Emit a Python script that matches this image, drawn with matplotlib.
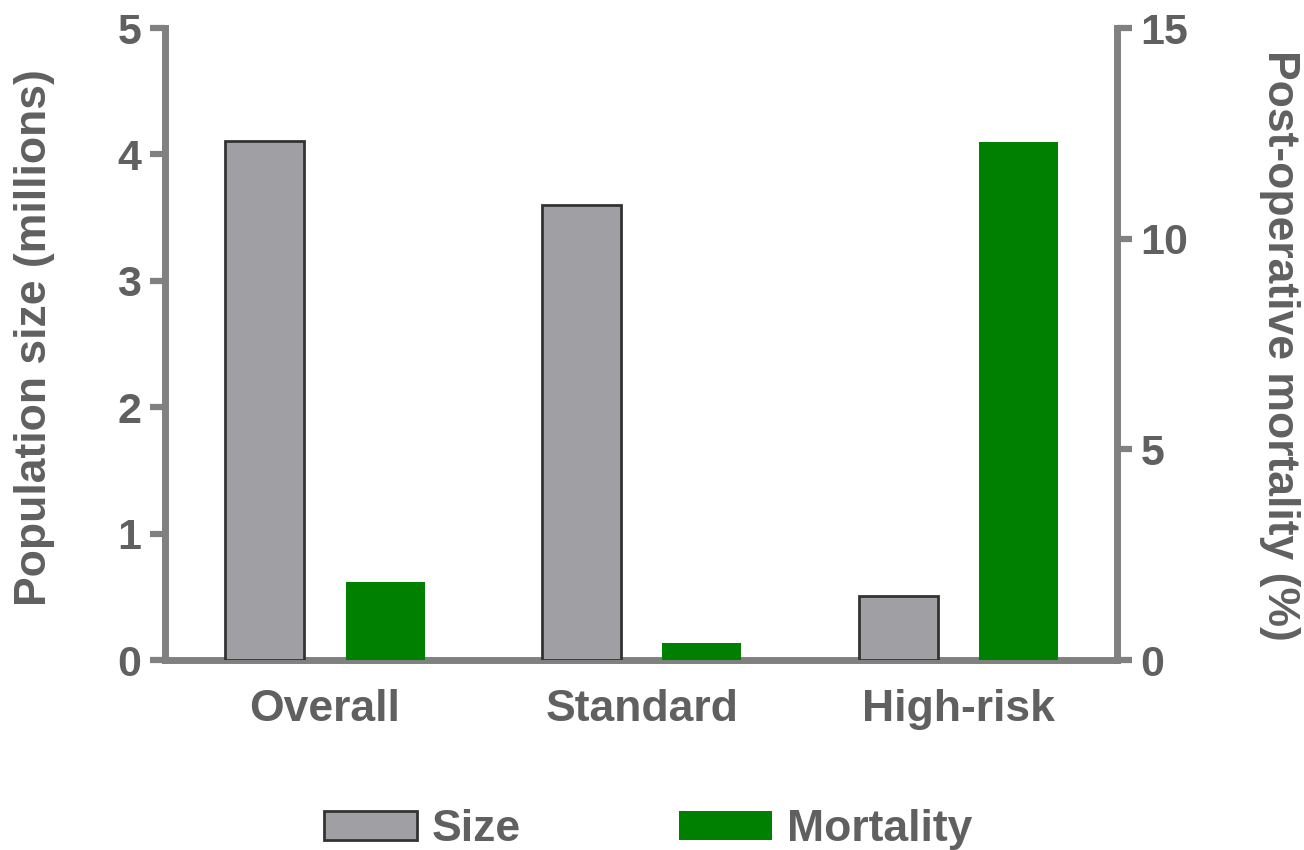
import numpy as np
import matplotlib
matplotlib.use("Agg")
import matplotlib.pyplot as plt

# values
groups = ["Overall", "Standard", "High-risk"]
size_millions = [4.11, 3.60, 0.51]
mortality_pct = [1.85, 0.40, 12.3]

grey_txt = "#606060"
spine_col = "#808080"

plt.rcParams['font.family'] = ['Liberation Sans', 'DejaVu Sans']
plt.rcParams['font.weight'] = 'bold'

fig = plt.figure(figsize=(13.04, 8.5), dpi=100)
ax = fig.add_axes([0.1265, 0.2235, 0.73, 0.7435])
ax2 = ax.twinx()

x = np.arange(len(groups))
w = 0.25
off = 0.19

b1 = ax.bar(x - off, size_millions, w, color="#A0A0A4", edgecolor="#333333",
            linewidth=2, label="Size", zorder=3)
b2 = ax2.bar(x + off, mortality_pct, w, color="#008000", label="Mortality", zorder=3)

ax.set_xlim(-0.505, 2.5)
ax.set_ylim(0, 5)
ax2.set_ylim(0, 15)
ax.set_yticks([0, 1, 2, 3, 4, 5])
ax2.set_yticks([0, 5, 10, 15])
ax.set_xticks(x)
ax.set_xticklabels(groups)

for a in (ax, ax2):
    for s in a.spines.values():
        s.set_color(spine_col)
        s.set_linewidth(5)
    a.spines['top'].set_visible(False)
ax.spines['right'].set_visible(False)
ax2.spines['left'].set_visible(False)
ax2.spines['bottom'].set_visible(False)

ax.tick_params(axis='y', length=11, width=4.5, color=spine_col, pad=6,
               labelsize=31, labelcolor=grey_txt)
ax.tick_params(axis='x', length=0, pad=21, labelsize=32, labelcolor=grey_txt)
ax2.tick_params(axis='y', length=11, width=4.5, color=spine_col, pad=6,
                labelsize=31, labelcolor=grey_txt)

ax.set_ylabel("Population size (millions)", fontsize=32, color=grey_txt,
              fontweight='bold', va='center')
ax.yaxis.set_label_coords(-0.137, 0.51)
ax2.set_ylabel("Post-operative mortality (%)", fontsize=32, color=grey_txt,
               fontweight='bold', rotation=270, va='center')
ax2.yaxis.set_label_coords(1.171, 0.498)

fig.legend([b1, b2], ["Size", "Mortality"], loc='center', bbox_to_anchor=(0.497, 0.024),
           ncol=2, frameon=False, fontsize=32, labelcolor=grey_txt,
           handlelength=2.1, handleheight=0.63, handletextpad=0.34, columnspacing=3.55)

fig.savefig("out.png", dpi=100)
